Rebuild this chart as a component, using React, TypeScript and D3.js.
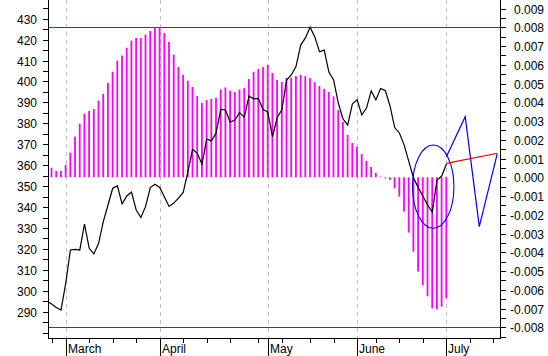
import React from "react";
import * as d3 from "d3";

// ---- data ----
// price (left axis), trading-day index starting at -1
const priceStart = -1;
const price = [
  295.0, 293.7, 292.0, 290.8, 303.5, 319.5, 319.8, 319.5, 331.9, 320.3,
  317.6, 322.7, 333.0, 341.0, 349.0, 350.1, 341.5, 345.3, 347.2, 338.6,
  335.0, 340.3, 349.3, 350.9, 349.4, 344.8, 340.3, 341.9, 344.3, 347.0,
  356.8, 367.6, 365.7, 360.5, 372.5, 371.6, 375.4, 386.7, 386.4, 380.6,
  381.6, 385.1, 383.0, 393.0, 391.7, 391.9, 386.6, 385.4, 373.6, 382.8,
  386.5, 400.7, 403.1, 407.1, 417.4, 420.8, 425.9, 421.3, 414.2, 415.0,
  404.5, 400.7, 389.7, 382.1, 379.2, 389.3, 391.2, 384.0, 387.3, 395.5,
  391.2, 396.6, 395.7, 388.3, 378.0, 375.4, 369.7, 361.8, 353.9, 349.4,
  345.2, 341.0, 337.6, 352.9, 354.8, 360.6,
];
// oscillator histogram (right axis), index 0..84
const osc = [
  0.00051, 0.00034, 0.00034, 0.00066, 0.00131, 0.00217, 0.00286, 0.00339, 0.00354, 0.00364,
  0.00409, 0.00444, 0.00503, 0.00563, 0.00622, 0.00649, 0.00691, 0.00729, 0.00743, 0.00743,
  0.00761, 0.0078, 0.00796, 0.008, 0.0077, 0.00722, 0.00654, 0.00588, 0.00546, 0.00515,
  0.00482, 0.00434, 0.00396, 0.00412, 0.00418, 0.00423, 0.00469, 0.00479, 0.00462, 0.00455,
  0.00468, 0.00476, 0.00524, 0.00563, 0.00578, 0.00588, 0.00599, 0.00556, 0.00519, 0.00508,
  0.0053, 0.0053, 0.0054, 0.00546, 0.0054, 0.0053, 0.00508, 0.00487, 0.00471, 0.00455,
  0.00431, 0.00359, 0.00295, 0.00226, 0.00183, 0.00164, 0.00124, 0.00087, 0.00055, 0.00023,
  0.00004, -0.00005, -0.00014, -0.00059, -0.00103, -0.00183, -0.00295, -0.00397, -0.00503, -0.00576,
  -0.00635, -0.00699, -0.00704, -0.0069, -0.00645,
];
// projection (right axis)
const projIdx = [84, 88, 91, 94.8];
const projVal = [0.0011, 0.00323, -0.00263, 0.00124];
// trend segment (left axis)
const trendIdx = [84, 94.8];
const trendVal = [360.9, 365.7];
// ellipse (index / right axis units)
const ellipseCenter = [81.2, -0.0005];
const ellipseRadius = [4.4, 0.00222];
// limit lines (right axis)
const limits = [0.008, -0.008];

const monthLabels = ["March", "April", "May", "June", "July"];
const monthIdx = [3, 23, 46, 65, 84];
const weekTickIdx = [0, 8, 13, 18, 28, 33, 38, 44, 49, 55, 60, 69, 74, 79, 89, 94];
const leftTickVals = d3.range(280, 440, 5);
const rightTickSteps = d3.range(-17, 19); // *0.0005

const W = 548;
const H = 356;
const plotL = 48;
const plotR = 500;
const plotT = 0;
const plotB = 338;
const font = "'Liberation Sans', Arial, sans-serif";

export default function App() {
  const x = d3.scaleLinear().domain([0, 84]).range([51.6, 446.4]);
  const yL = d3.scaleLinear().domain([290, 430]).range([311.7, 18.7]);
  const yR = d3.scaleLinear().domain([-0.008, 0.008]).range([327.3, 27.3]);

  const priceLine = d3
    .line<number>()
    .x((_, i) => x(i + priceStart))
    .y((d) => yL(d))(price);

  const projLine = d3
    .line<number>()
    .x((_, i) => x(projIdx[i]))
    .y((d) => yR(d))(projVal);

  const trendLine = d3
    .line<number>()
    .x((_, i) => x(trendIdx[i]))
    .y((d) => yL(d))(trendVal);

  const ecx = x(ellipseCenter[0]);
  const ecy = yR(ellipseCenter[1]);
  const erx = x(ellipseRadius[0]) - x(0);
  const ery = yR(0) - yR(ellipseRadius[1]);

  return (
    <svg
      width={W}
      height={H}
      style={{ position: "absolute", left: 0, top: 0, background: "#fff" }}
      fontFamily={font}
    >
      <defs>
        <clipPath id="plot">
          <rect x={plotL} y={plotT} width={plotR - plotL} height={plotB - plotT} />
        </clipPath>
      </defs>
      <rect x={0} y={0} width={W} height={H} fill="#fff" />

      {/* month gridlines */}
      {monthIdx.map((m, k) => (
        <line
          key={"g" + k}
          x1={Math.round(x(m)) + 0.5}
          x2={Math.round(x(m)) + 0.5}
          y1={plotT}
          y2={plotB}
          stroke="#c0c0c0"
          strokeDasharray="4,4"
        />
      ))}

      <g clipPath="url(#plot)">
        {/* histogram */}
        {osc.map((v, i) => (
          <rect
            key={"b" + i}
            x={x(i) - 1}
            y={Math.min(yR(v), yR(0))}
            width={1.8}
            height={Math.max(0.6, Math.abs(yR(v) - yR(0)))}
            fill="#ff00ff"
          />
        ))}

        {/* limit lines */}
        {limits.map((v, k) => (
          <line
            key={"l" + k}
            x1={plotL}
            x2={plotR}
            y1={Math.round(yR(v)) + 0.5}
            y2={Math.round(yR(v)) + 0.5}
            stroke="#dd0000"
            strokeWidth={1}
          />
        ))}

        {/* price line */}
        <path d={priceLine || ""} fill="none" stroke="#000" strokeWidth={1.2} />

        {/* ellipse */}
        <ellipse cx={ecx} cy={ecy} rx={erx} ry={ery} fill="none" stroke="#0000ff" strokeWidth={1.1} />

        {/* projection */}
        <path d={projLine || ""} fill="none" stroke="#0000ff" strokeWidth={1.2} />

        {/* trend */}
        <path d={trendLine || ""} fill="none" stroke="#ee0000" strokeWidth={1.2} />
      </g>

      {/* axes lines */}
      <line x1={plotL + 0.5} x2={plotL + 0.5} y1={plotT} y2={plotB} stroke="#000" />
      <line x1={plotR + 0.5} x2={plotR + 0.5} y1={plotT} y2={plotB} stroke="#000" />
      <line x1={plotL} x2={plotR + 1} y1={plotB + 0.5} y2={plotB + 0.5} stroke="#000" />

      {/* left axis */}
      {leftTickVals.map((v) => {
        const yy = Math.round(yL(v)) + 0.5;
        if (yy < plotT || yy > plotB) return null;
        return (
          <g key={"lt" + v}>
            <line x1={plotL - 5} x2={plotL} y1={yy} y2={yy} stroke="#000" />
            {v % 10 === 0 && v >= 290 && v <= 430 ? (
              <text x={37} y={yy} dy="0.35em" textAnchor="end" fontSize={12} fill="#000">
                {v}
              </text>
            ) : null}
          </g>
        );
      })}

      {/* right axis */}
      {rightTickSteps.map((k) => {
        const v = k * 0.0005;
        const yy = Math.round(yR(v)) + 0.5;
        if (yy < plotT || yy > plotB) return null;
        const labeled = k % 2 === 0 && k >= -16 && k <= 18;
        return (
          <g key={"rt" + k}>
            <line x1={plotR + 1} x2={plotR + 6} y1={yy} y2={yy} stroke="#000" />
            {labeled ? (
              <text x={544} y={yy} dy="0.35em" textAnchor="end" fontSize={12} fill="#000">
                {d3.format(".3f")(v).replace("−", "-")}
              </text>
            ) : null}
          </g>
        );
      })}

      {/* bottom axis */}
      {weekTickIdx.map((t) => (
        <line
          key={"wt" + t}
          x1={Math.round(x(t)) + 0.5}
          x2={Math.round(x(t)) + 0.5}
          y1={plotB}
          y2={plotB + 5}
          stroke="#000"
        />
      ))}
      {monthIdx.map((m, k) => (
        <g key={"mt" + k}>
          <line
            x1={Math.round(x(m)) + 0.5}
            x2={Math.round(x(m)) + 0.5}
            y1={plotB}
            y2={H}
            stroke="#000"
          />
          <text x={Math.round(x(m)) + 2} y={353} fontSize={12} fill="#000">
            {monthLabels[k]}
          </text>
        </g>
      ))}
    </svg>
  );
}
